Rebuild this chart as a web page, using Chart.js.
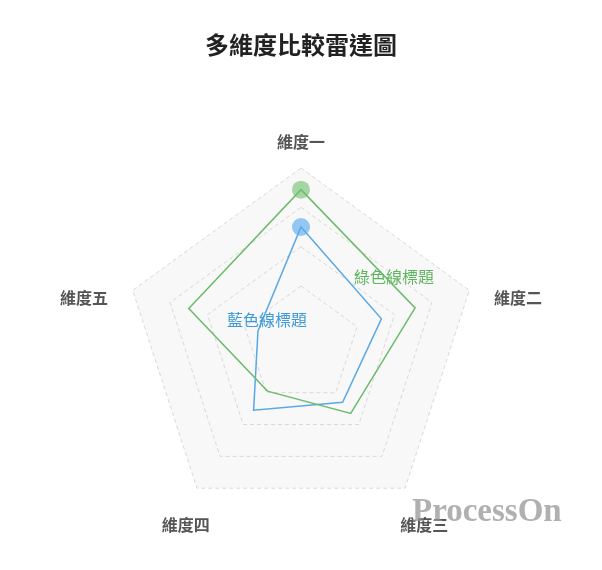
<!DOCTYPE html>
<html>
<head>
<meta charset="utf-8">
<script src="https://cdn.jsdelivr.net/npm/chart.js@4.4.0/dist/chart.umd.min.js"></script>
<style>
  body { margin: 0; background: #fff; }
  canvas { display: block; }
</style>
</head>
<body>
<canvas id="radarChart" width="602" height="570"></canvas>
<script>
const dimensions = ['維度一', '維度二', '維度三', '維度四', '維度五'];
const greenValues = [89, 71, 53, 39, 70];
const blueValues = [70, 53, 46, 51, 33];
const gridLevels = [40, 60, 80, 100];
const seriesNames = ['綠色線標題', '藍色線標題'];

const CJK = '"Noto Sans CJK TC", "Noto Sans CJK SC", sans-serif';

// axis names drawn by hand: the original puts them a bit further out and lower than chart.js does
const axisLabels = {
    id: 'axisLabels',
    afterDraw(chart) {
        const scale = chart.scales.r;
        const ctx = chart.ctx;
        ctx.save();
        ctx.font = 'bold 16px ' + CJK;
        ctx.fillStyle = '#555';
        ctx.textBaseline = 'middle';
        dimensions.forEach((name, i) => {
            const p = scale.getPointPosition(i, scale.drawingArea + 26);
            const dx = p.x - scale.xCenter;
            const side = Math.abs(dx) >= scale.drawingArea * 0.8;
            ctx.textAlign = side ? (dx > 0 ? 'left' : 'right') : 'center';
            if (i === 0) {
                ctx.fillText(name, p.x, p.y);
            } else {
                ctx.fillText(name, side ? p.x : p.x + 4, p.y + 16);
            }
        });
        ctx.restore();
    }
};

// series name written next to its own line
const seriesTags = {
    id: 'seriesTags',
    afterDatasetsDraw(chart) {
        const ctx = chart.ctx;
        ctx.save();
        ctx.font = '16px ' + CJK;
        ctx.textAlign = 'center';
        ctx.textBaseline = 'middle';
        chart.data.datasets.forEach((ds, di) => {
            const pt = chart.getDatasetMeta(di).data[ds.tagAt];
            ctx.fillStyle = ds.tagColor;
            ctx.fillText(ds.label, pt.x + ds.tagOffset[0], pt.y + ds.tagOffset[1]);
        });
        ctx.restore();
    }
};

const watermark = {
    id: 'watermark',
    afterDraw(chart) {
        const ctx = chart.ctx;
        ctx.save();
        ctx.font = 'bold 33px "Liberation Serif", serif';
        ctx.fillStyle = 'rgba(150,150,150,0.75)';
        ctx.textAlign = 'left';
        ctx.textBaseline = 'alphabetic';
        ctx.fillText('ProcessOn', chart.width - 190, chart.height - 49);
        ctx.restore();
    }
};

const topDot = (_, i) => i === 0 ? 9 : 0;

new Chart(document.getElementById('radarChart'), {
    type: 'radar',
    data: {
        labels: dimensions,
        datasets: [{
            label: seriesNames[0],
            data: greenValues,
            borderColor: '#6dbb6d',
            borderWidth: 1.5,
            fill: false,
            pointRadius: dimensions.map(topDot),
            pointHoverRadius: dimensions.map(topDot),
            pointBorderWidth: 0,
            pointBackgroundColor: 'rgba(110,190,110,0.6)',
            tagAt: 1,
            tagOffset: [-21, -31],
            tagColor: '#5fb55f'
        }, {
            label: seriesNames[1],
            data: blueValues,
            borderColor: '#5aa8e4',
            borderWidth: 1.5,
            fill: false,
            pointRadius: dimensions.map(topDot),
            pointHoverRadius: dimensions.map(topDot),
            pointBorderWidth: 0,
            pointBackgroundColor: 'rgba(90,170,240,0.65)',
            tagAt: 4,
            tagOffset: [9, -11],
            tagColor: '#3d9ad8'
        }]
    },
    options: {
        responsive: false,
        animation: false,
        events: [],
        layout: {
            padding: { left: 100, right: 100, bottom: 47 }
        },
        plugins: {
            legend: { display: false },
            tooltip: { enabled: false },
            title: {
                display: true,
                text: '多維度比較雷達圖',
                color: '#222',
                font: { family: CJK, size: 24, weight: 'bold' },
                padding: { top: 30, bottom: 109 }
            }
        },
        scales: {
            r: {
                min: 10,
                max: 100,
                backgroundColor: '#f8f8f8',
                afterBuildTicks: scale => {
                    scale.ticks = [scale.min].concat(gridLevels).map(v => ({ value: v }));
                },
                ticks: { display: false },
                angleLines: { display: false },
                grid: { color: '#d8d8d8', lineWidth: 1 },
                border: { dash: [4, 3] },
                pointLabels: { display: false }
            }
        }
    },
    plugins: [seriesTags, axisLabels, watermark]
});
</script>
</body>
</html>
